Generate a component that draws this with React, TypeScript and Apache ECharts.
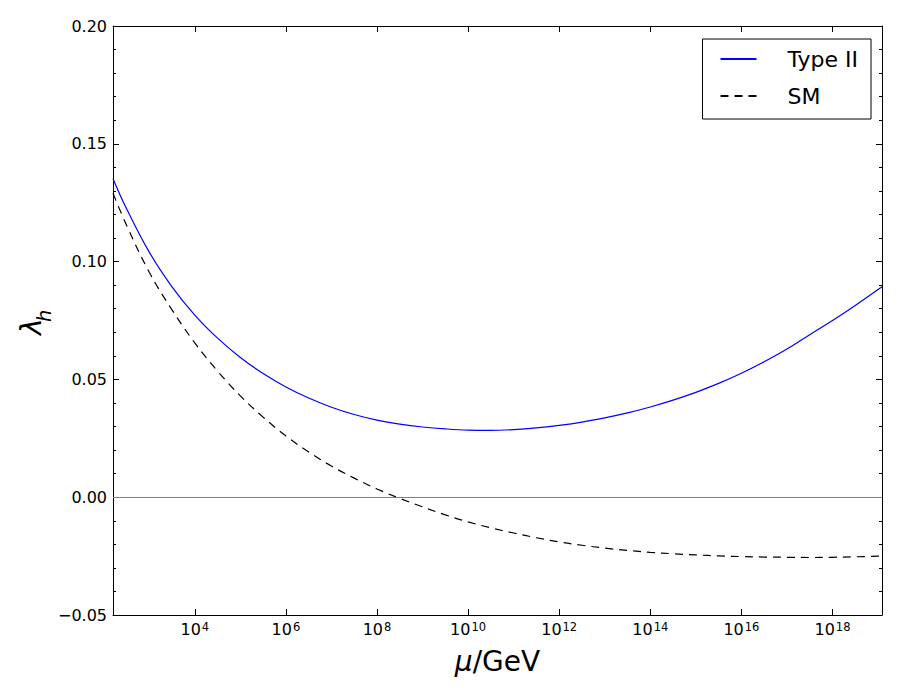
import React, { useEffect, useRef } from "react";
import * as echarts from "echarts";

// log10(mu / GeV) sample grid
const logMu = [
  2.204, 2.5, 3.0, 3.5, 4.0, 4.5, 5.0, 5.5, 6.0, 6.5, 7.0, 7.5, 8.0, 8.5, 9.0,
  9.5, 10.0, 10.5, 11.0, 11.5, 12.0, 12.5, 13.0, 13.5, 14.0, 14.5, 15.0, 15.5,
  16.0, 16.5, 17.0, 17.5, 18.0, 18.5, 19.087,
];

// lambda_h, Type II seesaw
const typeII = [
  0.1352, 0.1225, 0.104, 0.0893, 0.0773, 0.0675, 0.0593, 0.0525, 0.0468,
  0.0421, 0.0382, 0.0351, 0.0327, 0.031, 0.0298, 0.029, 0.0285, 0.0284,
  0.0287, 0.0294, 0.0305, 0.0319, 0.0337, 0.0358, 0.0383, 0.0412, 0.0445,
  0.0483, 0.0526, 0.0575, 0.0629, 0.069, 0.075, 0.0814, 0.0893,
];

// lambda_h, Standard Model
const sm = [
  0.129, 0.1155, 0.0955, 0.0795, 0.0655, 0.0535, 0.043, 0.034, 0.026, 0.0192,
  0.0132, 0.0081, 0.0035, -0.0005, -0.0041, -0.0075, -0.0105, -0.013, -0.0152,
  -0.0172, -0.019, -0.0204, -0.0216, -0.0226, -0.0234, -0.024, -0.0245,
  -0.0249, -0.0252, -0.0254, -0.0255, -0.0256, -0.0255, -0.0253, -0.025,
];

const seriesNames = ["Type II", "SM"];
const xMin = 2.204;
const xMax = 19.087;
const yMin = -0.05;
const yMax = 0.2;
const yStep = 0.05;

const FONT = "DejaVu Sans";

export default function App() {
  const ref = useRef<HTMLDivElement>(null);

  useEffect(() => {
    if (!ref.current) return;
    const chart = echarts.init(ref.current, undefined, { renderer: "svg" });

    const tickCommon = {
      show: true,
      inside: true,
      length: 6,
      lineStyle: { color: "#000", width: 1 },
    };
    const axisLine = { show: true, onZero: false, lineStyle: { color: "#000", width: 1 } };

    const option: any = {
      animation: false,
      backgroundColor: "#fff",
      grid: { left: 113, top: 26, right: 18, bottom: 85, containLabel: false },
      legend: {
        data: seriesNames,
        orient: "vertical",
        right: 29,
        top: 39,
        padding: [8, 13, 11, 17],
        itemWidth: 36,
        itemHeight: 24,
        itemGap: 13,
        borderColor: "#000",
        borderWidth: 1,
        borderRadius: 0,
        backgroundColor: "#fff",
        itemStyle: { color: "rgba(0,0,0,0)", borderColor: "rgba(0,0,0,0)", borderWidth: 0 },
        textStyle: {
          fontFamily: FONT,
          fontSize: 22,
          color: "#000",
          lineHeight: 24,
          padding: [0, 0, 0, 26],
        },
      },
      xAxis: [
        {
          type: "value",
          position: "bottom",
          min: xMin,
          max: xMax,
          splitNumber: 8,
          axisLine,
          axisTick: tickCommon,
          splitLine: { show: false },
          axisLabel: {
            margin: 6,
            showMinLabel: false,
            showMaxLabel: false,
            formatter: (v: number) => `{b|10}{s|${Math.round(v)}}`,
            rich: {
              b: {
                fontFamily: FONT,
                fontSize: 16,
                color: "#000",
                lineHeight: 16,
                verticalAlign: "bottom",
              },
              s: {
                fontFamily: FONT,
                fontSize: 11.5,
                color: "#000",
                lineHeight: 12,
                padding: [0, 0, 7, 1],
                verticalAlign: "top",
              },
            },
          },
          name: "{m|μ}{r|/GeV}",
          nameLocation: "middle",
          nameGap: 32,
          nameTextStyle: {
            rich: {
              m: { fontFamily: FONT, fontSize: 28, fontStyle: "italic", color: "#000" },
              r: { fontFamily: FONT, fontSize: 28, color: "#000" },
            },
          },
        },
        {
          type: "value",
          position: "top",
          min: xMin,
          max: xMax,
          splitNumber: 8,
          axisLine,
          axisTick: tickCommon,
          splitLine: { show: false },
          axisLabel: { show: false },
        },
      ],
      yAxis: [
        {
          type: "value",
          position: "left",
          min: yMin,
          max: yMax,
          interval: yStep,
          axisLine,
          axisTick: tickCommon,
          minorTick: { show: true, splitNumber: 5, length: 3, lineStyle: { color: "#000", width: 1 } },
          splitLine: { show: false },
          axisLabel: {
            margin: 6,
            fontFamily: FONT,
            fontSize: 16,
            color: "#000",
            formatter: (v: number) => v.toFixed(2).replace("-", "\u2212"),
          },
        },
        {
          type: "value",
          position: "right",
          min: yMin,
          max: yMax,
          interval: yStep,
          axisLine,
          axisTick: tickCommon,
          minorTick: { show: true, splitNumber: 5, length: 3, lineStyle: { color: "#000", width: 1 } },
          splitLine: { show: false },
          axisLabel: { show: false },
        },
      ],
      series: [
        {
          name: seriesNames[0],
          type: "line",
          data: logMu.map((x, i) => [x, typeII[i]]),
          symbol: "none",
          smooth: 0.4,
          lineStyle: { color: "#0000ff", width: 1.2 },
          itemStyle: { color: "#0000ff" },
          z: 3,
          markLine: {
            silent: true,
            symbol: "none",
            label: { show: false },
            lineStyle: { color: "#808080", type: "solid", width: 1.2 },
            data: [{ yAxis: 0 }],
          },
        },
        {
          name: seriesNames[1],
          type: "line",
          data: logMu.map((x, i) => [x, sm[i]]),
          symbol: "none",
          smooth: 0.4,
          lineStyle: { color: "#000000", width: 1.2, type: [8, 6] },
          itemStyle: { color: "#000000" },
          z: 3,
        },
      ],
      graphic: [
        {
          type: "text",
          x: 31,
          y: 335,
          rotation: Math.PI / 2,
          style: {
            text: "λ",
            fontFamily: FONT,
            fontSize: 28,
            fontStyle: "italic",
            fill: "#000",
            textAlign: "left",
            textVerticalAlign: "middle",
            verticalAlign: "middle",
          },
        },
        {
          type: "text",
          x: 44,
          y: 322,
          rotation: Math.PI / 2,
          style: {
            text: "h",
            fontFamily: FONT,
            fontSize: 19.5,
            fontStyle: "italic",
            fill: "#000",
            textAlign: "left",
            textVerticalAlign: "middle",
            verticalAlign: "middle",
          },
        },
      ],
    };

    chart.setOption(option);
    return () => chart.dispose();
  }, []);

  return (
    <div
      ref={ref}
      style={{ position: "absolute", left: 0, top: 0, width: 900, height: 700 }}
    />
  );
}
